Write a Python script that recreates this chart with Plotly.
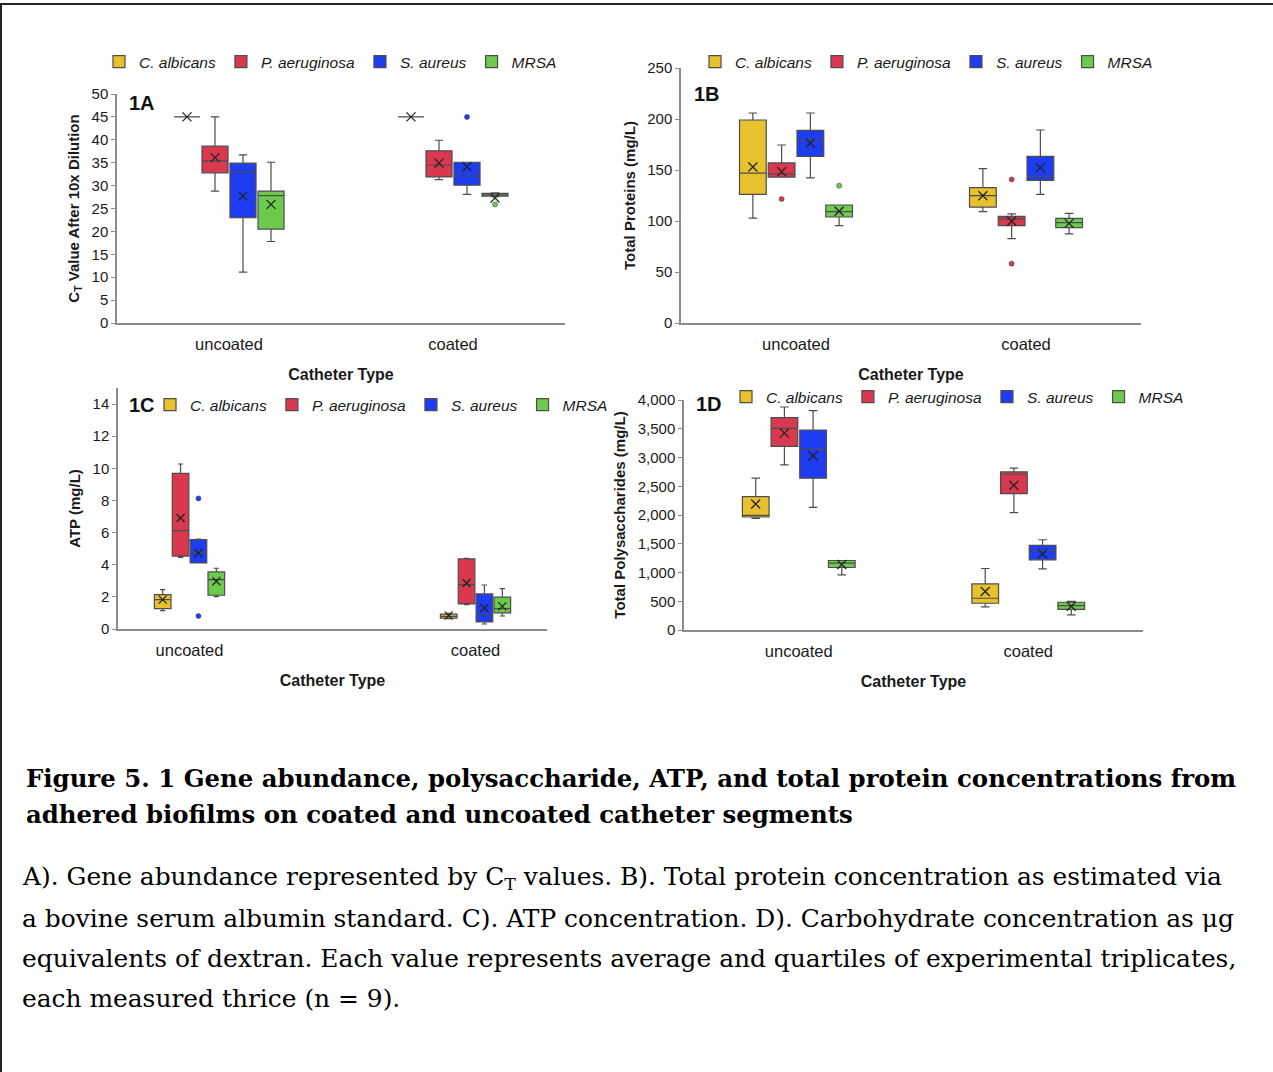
import plotly.graph_objects as go

W, H = 1273, 1072

# ---------------- data ----------------
categories = ['uncoated', 'coated']
species = ['C. albicans', 'P. aeruginosa', 'S. aureus', 'MRSA']
colors = ['#E8C12F', '#D8394F', '#1E3CF2', '#6CCB4C']

# Panel 1A : CT value after 10x dilution   (per species -> [uncoated, coated])
A_low = [[45, 45], [28.8, 31.3], [11.1, 28.1], [17.8, 27.6]]
A_q1 = [[45, 45], [32.8, 31.9], [23.0, 30.1], [20.5, 27.7]]
A_med = [[45, 45], [35.4, 34.5], [33.0, 32.1], [27.8, 28.0]]
A_q3 = [[45, 45], [38.6, 37.6], [34.9, 35.1], [28.8, 28.3]]
A_high = [[45, 45], [45.0, 39.9], [36.7, 35.1], [35.1, 28.4]]
A_mean = [[45, 45], [36.1, 34.9], [27.7, 34.1], [25.9, 27.3]]
A_out = [[[], []], [[], []], [[], [45.0]], [[], [25.9]]]

# Panel 1B : total proteins (mg/L)
B_low = [[102.9, 109.2], [143.1, 82.7], [142.2, 126.1], [95.4, 87.3]]
B_q1 = [[126.1, 113.7], [143.1, 95.4], [163.4, 139.9], [103.9, 93.5]]
B_med = [[147.0, 124.8], [146.0, 102.0], [179.4, 143.8], [109.2, 98.4]]
B_q3 = [[199.0, 132.7], [156.9, 104.6], [188.9, 163.4], [115.7, 102.6]]
B_high = [[205.9, 151.3], [174.5, 106.9], [205.9, 189.2], [115.7, 107.5]]
B_mean = [[152.9, 124.8], [148.4, 99.7], [176.5, 152.3], [109.5, 97.7]]
B_out = [[[], []], [[121.6], [140.8, 58.2]], [[], []], [[134.6], []]]

# Panel 1C : ATP (mg/L)
C_low = [[1.14, 0.64], [4.46, 1.51], [4.11, 0.31], [2.01, 0.81]]
C_q1 = [[1.27, 0.68], [4.54, 1.56], [4.11, 0.44], [2.10, 1.00]]
C_med = [[1.83, 0.79], [6.12, 2.76], [4.80, 0.89], [3.07, 1.27]]
C_q3 = [[2.14, 0.93], [9.69, 4.36], [5.56, 2.18], [3.55, 1.99]]
C_high = [[2.45, 0.97], [10.27, 4.40], [5.60, 2.74], [3.78, 2.51]]
C_mean = [[1.83, 0.83], [6.91, 2.86], [4.73, 1.31], [2.97, 1.41]]
C_out = [[[], []], [[], []], [[8.13, 0.81], []], [[], []]]

# Panel 1D : total polysaccharides (mg/L)
D_low = [[1942, 401], [2872, 2041], [2134, 1064], [959, 262]]
D_q1 = [[1965, 465], [3192, 2372], [2640, 1221], [1087, 360]]
D_med = [[1994, 552], [3506, 2709], [3145, 1378], [1163, 424]]
D_q3 = [[2320, 802], [3692, 2750], [3477, 1471], [1209, 483]]
D_high = [[2640, 1070], [3878, 2814], [3814, 1570], [1209, 500]]
D_mean = [[2192, 669], [3424, 2517], [3029, 1326], [1140, 413]]
D_out = [[[], []], [[], []], [[], []], [[], []]]

# ---------------- layout helpers ----------------
def fx(p):
    return p / W


def fy(p):
    return 1 - p / H


SANS = 'Liberation Sans, Arial, sans-serif'
SERIF = 'DejaVu Serif, Liberation Serif, serif'
AXIS_COLOR = '#8c8c8c'
TXT = '#1a1a1a'

panels = [
    dict(low=A_low, q1=A_q1, med=A_med, q3=A_q3, high=A_high, mean=A_mean, out=A_out,
         xdom=(117, 565), ydom=(323, 94), yrange=[0, 50], dtick=5, slot=0.125,
         xrange=[-0.5, 1.5], ytitle='C<sub>T</sub> Value After 10x Dilution',
         label='1A', label_xy=(127, 103), legend_xy=(99, 62), tickformat=None),
    dict(low=B_low, q1=B_q1, med=B_med, q3=B_q3, high=B_high, mean=B_mean, out=B_out,
         xdom=(681, 1141), ydom=(323, 68), yrange=[0, 250], dtick=50, slot=0.125,
         xrange=[-0.5, 1.5], ytitle='Total Proteins (mg/L)',
         label='1B', label_xy=(692, 94), legend_xy=(695, 62), tickformat=None),
    dict(low=C_low, q1=C_q1, med=C_med, q3=C_q3, high=C_high, mean=C_mean, out=C_out,
         xdom=(118, 547), ydom=(629, 388), yrange=[0, 15], dtick=2, slot=0.0625,
         xrange=[-0.25, 1.25], ytitle='ATP (mg/L)',
         label='1C', label_xy=(127, 405), legend_xy=(150, 405), tickformat=None),
    dict(low=D_low, q1=D_q1, med=D_med, q3=D_q3, high=D_high, mean=D_mean, out=D_out,
         xdom=(684, 1143), ydom=(630, 400), yrange=[0, 4000], dtick=500, slot=0.125,
         xrange=[-0.5, 1.5], ytitle='Total Polysaccharides (mg/L)',
         label='1D', label_xy=(694, 404), legend_xy=(726, 397), tickformat=','),
]

fig = go.Figure()
layout = dict(
    width=W, height=H, margin=dict(l=0, r=0, t=0, b=0, autoexpand=False),
    paper_bgcolor='white', plot_bgcolor='white', showlegend=True,
    font=dict(family=SANS, color=TXT),
)
annotations = []

for k, p in enumerate(panels):
    sfx = '' if k == 0 else str(k + 1)
    xa, ya = 'x' + sfx, 'y' + sfx
    leg = 'legend' + sfx
    slot = p['slot']
    for j, sp in enumerate(species):
        pos = [i + (j - 1.5) * slot for i in range(len(categories))]
        fig.add_trace(go.Box(
            x=pos, q1=p['q1'][j], median=p['med'][j], q3=p['q3'][j],
            lowerfence=p['low'][j], upperfence=p['high'][j],
            orientation='v', width=slot * 0.93, whiskerwidth=0.32,
            fillcolor=colors[j], line=dict(color='#4d4d4d', width=1.2),
            name=sp, legend=leg, xaxis=xa, yaxis=ya, boxpoints=False,
            hoverinfo='skip'))
        fig.add_trace(go.Scatter(
            x=pos, y=p['mean'][j], mode='markers', xaxis=xa, yaxis=ya,
            marker=dict(symbol='x-thin', size=9 if k != 2 else 8,
                        line=dict(color='#222222', width=1.3)),
            showlegend=False, hoverinfo='skip'))
        ox, oy = [], []
        for i in range(len(categories)):
            for v in p['out'][j][i]:
                ox.append(pos[i])
                oy.append(v)
        if ox:
            fig.add_trace(go.Scatter(
                x=ox, y=oy, mode='markers', xaxis=xa, yaxis=ya,
                marker=dict(size=5, color=colors[j], line=dict(color='#444', width=0.6)),
                showlegend=False, hoverinfo='skip'))

    layout['xaxis' + sfx] = dict(
        domain=[fx(p['xdom'][0]), fx(p['xdom'][1])], anchor=ya, automargin=False,
        range=p['xrange'], tickvals=list(range(len(categories))), ticktext=categories,
        showline=True, linecolor=AXIS_COLOR, linewidth=1.5, ticks='', showgrid=False,
        zeroline=False, tickfont=dict(size=16.5, color=TXT), ticklabelstandoff=5,
        title=dict(text='Catheter Type', font=dict(size=16, weight='bold', color=TXT), standoff=17))
    layout['yaxis' + sfx] = dict(
        domain=[fy(p['ydom'][0]), fy(p['ydom'][1])], anchor=xa, automargin=False,
        range=p['yrange'], dtick=p['dtick'], tick0=0,
        showline=True, linecolor=AXIS_COLOR, linewidth=1.5, ticks='outside', ticklen=4,
        tickcolor=AXIS_COLOR, showgrid=False, zeroline=False,
        tickfont=dict(size=15, color=TXT), tickformat=p['tickformat'],
        title=dict(text=p['ytitle'], font=dict(size=15, weight='bold', color=TXT), standoff=8))
    layout[leg] = dict(
        orientation='h', x=fx(p['legend_xy'][0]), y=fy(p['legend_xy'][1]),
        xanchor='left', yanchor='middle', bgcolor='rgba(0,0,0,0)',
        font=dict(size=15.5, style='italic', color=TXT), itemclick=False,
        itemdoubleclick=False, tracegroupgap=0)
    annotations.append(dict(
        text=p['label'], xref='paper', yref='paper', x=fx(p['label_xy'][0]), y=fy(p['label_xy'][1]),
        xanchor='left', yanchor='middle', showarrow=False,
        font=dict(size=20, weight='bold', color='#111', family=SANS)))

# ---------------- caption ----------------
caption_title = [
    'Figure 5. 1 Gene abundance, polysaccharide, ATP, and total protein concentrations from',
    'adhered biofilms on coated and uncoated catheter segments',
]
caption_body = [
    'A). Gene abundance represented by C<sub>T</sub> values. B). Total protein concentration as estimated via',
    'a bovine serum albumin standard. C). ATP concentration. D). Carbohydrate concentration as μg',
    'equivalents of dextran. Each value represents average and quartiles of experimental triplicates,',
    'each measured thrice (n = 9).',
]
for i, line in enumerate(caption_title):
    annotations.append(dict(
        text=line, xref='paper', yref='paper', x=fx(24), y=fy(778 + 36 * i),
        xanchor='left', yanchor='middle', showarrow=False,
        font=dict(family=SERIF, size=24.4, weight='bold', color='#000')))
for i, line in enumerate(caption_body):
    annotations.append(dict(
        text=line, xref='paper', yref='paper', x=fx(20), y=fy(878 + 40 * i),
        xanchor='left', yanchor='middle', showarrow=False,
        font=dict(family=SERIF, size=24.9, color='#000')))

layout['annotations'] = annotations
layout['shapes'] = [
    dict(type='line', xref='paper', yref='paper', x0=0, x1=1, y0=fy(4), y1=fy(4),
         line=dict(color='#222', width=2)),
    dict(type='line', xref='paper', yref='paper', x0=fx(1), x1=fx(1), y0=0, y1=fy(4),
         line=dict(color='#222', width=2)),
]
fig.update_layout(**layout)
fig.write_html('out.html')
